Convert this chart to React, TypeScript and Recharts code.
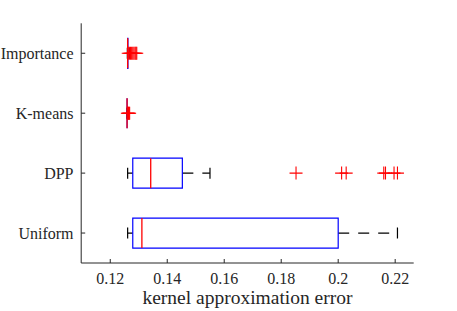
import { Bar, ComposedChart, Scatter, XAxis, YAxis } from "recharts";

const categories = ["Importance", "K-means", "DPP", "Uniform"];
const lowerAdjacent = [0.126, 0.1259, 0.1261, 0.1261];
const firstQuartile = [0.1261, 0.1259, 0.1279, 0.1279];
const medians = [0.1261, 0.1259, 0.1342, 0.1311];
const thirdQuartile = [0.1262, 0.1259, 0.1453, 0.2];
const upperAdjacent = [0.1267, 0.126, 0.155, 0.2208];
const outliers = [
  [0.1263, 0.1267, 0.1271, 0.1275, 0.1279, 0.1283, 0.1287, 0.129, 0.1293],
  [0.126, 0.1262, 0.1264, 0.1266, 0.1268],
  [0.1852, 0.2012, 0.2028, 0.216, 0.2166, 0.2196, 0.2208],
  [],
];
const xTicks = [0.12, 0.14, 0.16, 0.18, 0.2, 0.22];

const rows = categories.map((name, i) => ({
  name,
  lo: lowerAdjacent[i],
  q1: firstQuartile[i],
  med: medians[i],
  q3: thirdQuartile[i],
  hi: upperAdjacent[i],
}));

const outlierPoints = categories.flatMap((name, i) =>
  outliers[i].map((value) => ({ name, value }))
);

const ink = "#262626";
const serif = "'Liberation Serif', 'DejaVu Serif', serif";
const domain = [0.1098, 0.2265];

// whisker drawn from the box edge outwards so the dash pattern starts at the box
const LowerWhisker = (p: any) => {
  const cy = p.y + p.height / 2;
  return (
    <g>
      <line x1={p.x + p.width} x2={p.x} y1={cy} y2={cy} stroke="#000" strokeWidth={1.2} strokeDasharray="11 9" />
      <line x1={p.x} x2={p.x} y1={cy - 5.5} y2={cy + 5.5} stroke="#000" strokeWidth={1.2} />
    </g>
  );
};

const UpperWhisker = (p: any) => {
  const cy = p.y + p.height / 2;
  const end = p.x + p.width;
  return (
    <g>
      <line x1={p.x} x2={end} y1={cy} y2={cy} stroke="#000" strokeWidth={1.2} strokeDasharray="11 9" />
      <line x1={end} x2={end} y1={cy - 5.5} y2={cy + 5.5} stroke="#000" strokeWidth={1.2} />
    </g>
  );
};

const BoxShape = (p: any) => (
  <path
    d={`M${p.x},${p.y}h${p.width}v${p.height}h${-p.width}Z`}
    fill="none"
    stroke="#0000ff"
    strokeWidth={1.2}
  />
);

const MedianShape = (p: any) => (
  <line x1={p.x} x2={p.x} y1={p.y} y2={p.y + p.height} stroke="#ff0000" strokeWidth={1.3} />
);

const Plus = (p: any) => (
  <g stroke="#ff0000" strokeWidth={1.1}>
    <line x1={p.cx - 6.5} x2={p.cx + 6.5} y1={p.cy} y2={p.cy} />
    <line x1={p.cx} x2={p.cx} y1={p.cy - 6.5} y2={p.cy + 6.5} />
  </g>
);

export default function App() {
  return (
    <div style={{ position: "absolute", left: 0, top: 0, fontFamily: serif }}>
      <ComposedChart
        width={457}
        height={311}
        data={rows}
        layout="vertical"
        barSize={30}
        barGap={-30}
        margin={{ top: 23.3, right: 43.3, bottom: 0, left: 6.2 }}
        style={{ fontFamily: serif }}
      >
        <XAxis
          type="number"
          domain={domain}
          allowDataOverflow
          ticks={xTicks}
          height={48}
          tickSize={-4}
          tickMargin={13.6}
          axisLine={{ stroke: ink }}
          tickLine={{ stroke: ink }}
          tick={{ fill: ink, fontSize: 16, fontFamily: serif }}
          label={{
            value: "kernel approximation error",
            position: "insideBottom",
            offset: 7,
            fill: ink,
            fontSize: 19.5,
            fontFamily: serif,
          }}
        />
        <XAxis
          xAxisId="top"
          orientation="top"
          type="number"
          domain={domain}
          allowDataOverflow
          ticks={xTicks}
          height={0}
          tick={false}
          tickSize={-4}
          axisLine={{ stroke: ink }}
          tickLine={{ stroke: ink }}
        />
        <YAxis
          type="category"
          dataKey="name"
          allowDuplicatedCategory={false}
          width={75}
          tickSize={-4}
          tickMargin={11.7}
          axisLine={{ stroke: ink }}
          tickLine={{ stroke: ink }}
          tick={{ fill: ink, fontSize: 16, fontFamily: serif }}
        />
        <YAxis
          yAxisId="right"
          orientation="right"
          type="category"
          dataKey="name"
          allowDuplicatedCategory={false}
          width={0}
          tick={false}
          tickSize={-4}
          axisLine={{ stroke: ink }}
          tickLine={{ stroke: ink }}
        />
        <Bar dataKey={(d: any) => [d.lo, d.q1]} shape={LowerWhisker} isAnimationActive={false} />
        <Bar dataKey={(d: any) => [d.q3, d.hi]} shape={UpperWhisker} isAnimationActive={false} />
        <Bar dataKey={(d: any) => [d.q1, d.q3]} shape={BoxShape} isAnimationActive={false} />
        <Bar dataKey={(d: any) => [d.med, d.med]} shape={MedianShape} isAnimationActive={false} />
        <Scatter data={outlierPoints} dataKey="value" shape={Plus} isAnimationActive={false} />
      </ComposedChart>
    </div>
  );
}
